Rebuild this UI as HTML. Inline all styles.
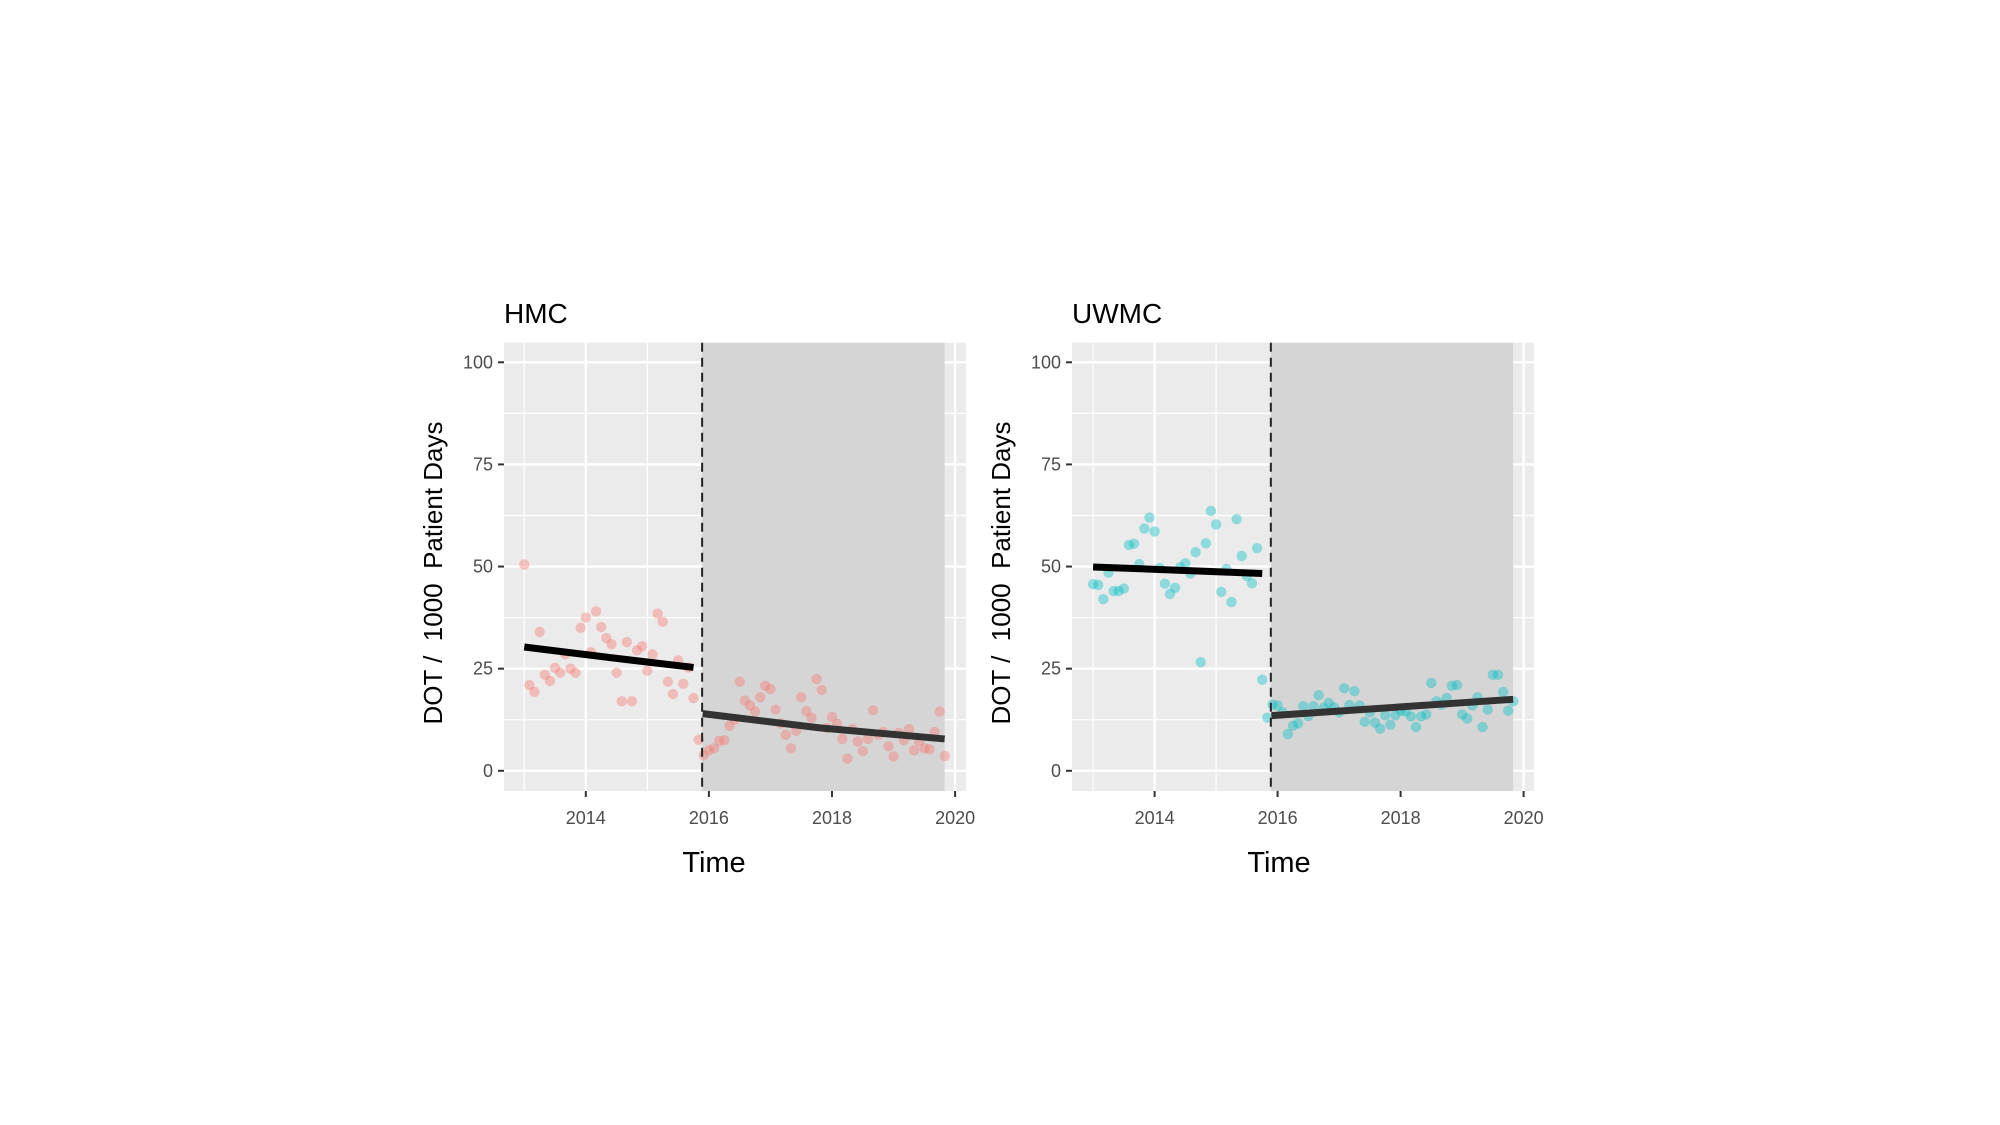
<!DOCTYPE html>
<html><head><meta charset="utf-8"><style>
html,body{margin:0;padding:0;background:#fff;width:2000px;height:1125px;overflow:hidden}
svg{display:block}
text{white-space:pre}
</style></head><body>
<svg id="chart" width="2000" height="1125" xmlns="http://www.w3.org/2000/svg" font-family="Liberation Sans, sans-serif"></svg>
<script>
// ---- data ----
const yTicks = [0, 25, 50, 75, 100];
const xTicks = [2014, 2016, 2018, 2020];
const hmcValues = [50.5,21,19.3,34,23.5,22,25.2,24,28.5,25,24,35,
  37.5,29,39,35.2,32.5,31,24,17,31.5,17,29.5,30.5,
  24.5,28.5,38.5,36.5,21.8,18.8,27,21.3,25.3,17.8,7.6,3.8,
  5,5.5,7.3,7.5,11,12.5,21.8,17.2,16,14.5,18,20.8,
  20,15,11.6,8.8,5.5,9.8,18,14.6,13,22.5,19.8,10.5,
  13.2,11.5,7.8,3,10.2,7.2,4.8,7.8,14.8,8.8,9.5,6,
  3.5,9.3,7.5,10.2,5,7.2,5.5,5.3,9.5,14.5,3.6];
const uwmcValues = [45.7,45.5,42,48.5,44,44,44.6,55.3,55.6,50.6,59.3,62,
  58.6,49.6,45.8,43.3,44.8,49.8,50.8,48.3,53.5,26.6,55.7,63.6,
  60.3,43.8,49.4,41.3,61.6,52.6,47.7,45.9,54.5,22.3,13,16.2,
  16,14.3,9,11,11.6,15.8,13.4,15.8,18.5,15.4,16.6,15.5,
  14.3,20.2,16.1,19.5,16,12,14.3,11.8,10.3,13.6,11.3,13.6,
  14.7,14.5,13.3,10.7,13.3,13.8,21.5,17,16.2,17.8,20.8,21,
  13.8,12.8,16,18,10.7,15,23.5,23.5,19.3,14.7,17];
const startYear = 2013.0;
const interventionYear = 2015.89;
const studyEndYear = 2019.83;
const hmcPreYears = [2013.0, 2014.4, 2015.75];
const hmcPreFit = [30.3, 27.7, 25.3];
const hmcPostYears = [2015.9, 2017.8, 2019.83];
const hmcPostFit = [14, 10.5, 7.8];
const uwmcPreYears = [2013.0, 2015.75];
const uwmcPreFit = [49.9, 48.3];
const uwmcPostYears = [2015.9, 2019.83];
const uwmcPostFit = [13.5, 17.5];

const NS = 'http://www.w3.org/2000/svg';
const svg = document.getElementById('chart');
function mk(tag, attrs, parent, text){
  const e = document.createElementNS(NS, tag);
  for (const k in attrs) e.setAttribute(k, attrs[k]);
  if (text !== undefined) e.textContent = text;
  (parent || svg).appendChild(e);
  return e;
}

function panel(cfg){
  const g = mk('g', {});
  
  
  const xs = v => cfg.x2014 + (v - 2014) * cfg.pxYear;
  const ys = v => 770.8 - v * 4.085;
  const top = 342.7, bot = 791;
  const bg = mk('rect', {x: cfg.left, y: top, width: cfg.right - cfg.left, height: bot - top, fill: '#ebebeb'}, g);
  
  
  for (let v = 12.5; v < 100; v += 25) mk('line', {x1: cfg.left, x2: cfg.right, y1: ys(v), y2: ys(v), stroke: '#fff', 'stroke-width': 1.2}, g);
  for (let yv = 2013; yv <= 2019; yv += 2) mk('line', {x1: xs(yv), x2: xs(yv), y1: top, y2: bot, stroke: '#fff', 'stroke-width': 1.2}, g);
  yTicks.forEach(v => mk('line', {x1: cfg.left, x2: cfg.right, y1: ys(v), y2: ys(v), stroke: '#fff', 'stroke-width': 2.4}, g));
  xTicks.forEach(v => mk('line', {x1: xs(v), x2: xs(v), y1: top, y2: bot, stroke: '#fff', 'stroke-width': 2.4}, g));
  const sh = mk('rect', {x: xs(interventionYear), y: top, width: xs(studyEndYear) - xs(interventionYear), height: bot - top, fill: '#d5d5d5'}, g);
  
  
  cfg.values.forEach((v, i) => {
    const c = mk('circle', {cx: xs(startYear + i / 12), cy: ys(v), r: 5.2, fill: cfg.color, 'fill-opacity': 0.4}, g);
    
    
  });
  function fit(years, vals, color, name){
    const p = mk('polyline', {points: years.map((y, i) => xs(y) + ',' + ys(vals[i])).join(' '), fill: 'none', stroke: color, 'stroke-width': 7}, g);
    
    
  }
  fit(cfg.preYears, cfg.preFit, '#000', 'pre-trend-line');
  fit(cfg.postYears, cfg.postFit, '#333', 'post-trend-line');
  const d = mk('line', {x1: xs(interventionYear), x2: xs(interventionYear), y1: top, y2: bot, stroke: '#222', 'stroke-width': 2, 'stroke-dasharray': '9,6'}, g);
  
  
  yTicks.forEach(v => {
    mk('line', {x1: cfg.left - 6, x2: cfg.left, y1: ys(v), y2: ys(v), stroke: '#333', 'stroke-width': 2}, g);
    const t = mk('text', {x: cfg.left - 11, y: ys(v) + 6, 'text-anchor': 'end', 'font-size': 18, fill: '#4d4d4d'}, g, String(v));
    
    
  });
  xTicks.forEach(v => {
    mk('line', {x1: xs(v), x2: xs(v), y1: bot, y2: bot + 6, stroke: '#333', 'stroke-width': 2}, g);
    const t = mk('text', {x: xs(v), y: 824, 'text-anchor': 'middle', 'font-size': 18, fill: '#4d4d4d'}, g, String(v));
    
    
  });
  const ti = mk('text', {x: cfg.left, y: 323, 'font-size': 28, fill: '#000'}, g, cfg.title);
  
  
  const yt = mk('text', {x: cfg.yTitleX, y: 573, 'text-anchor': 'middle', 'font-size': 26, fill: '#000', transform: 'rotate(-90 ' + cfg.yTitleX + ' 573)'}, g, 'DOT /  1000  Patient Days');
  
  
  const xt = mk('text', {x: cfg.xTitleX, y: 872, 'text-anchor': 'middle', 'font-size': 29, fill: '#000'}, g, 'Time');
  
  
}

panel({name: 'hmc', title: 'HMC', left: 504, right: 966, x2014: 585.8, pxYear: 61.55, values: hmcValues, color: '#F8766D',
  preYears: hmcPreYears, preFit: hmcPreFit, postYears: hmcPostYears, postFit: hmcPostFit, yTitleX: 442, xTitleX: 714});
panel({name: 'uwmc', title: 'UWMC', left: 1072, right: 1534, x2014: 1154.6, pxYear: 61.5, values: uwmcValues, color: '#00BFC4',
  preYears: uwmcPreYears, preFit: uwmcPreFit, postYears: uwmcPostYears, postFit: uwmcPostFit, yTitleX: 1010, xTitleX: 1279});
</script>
</body></html>
